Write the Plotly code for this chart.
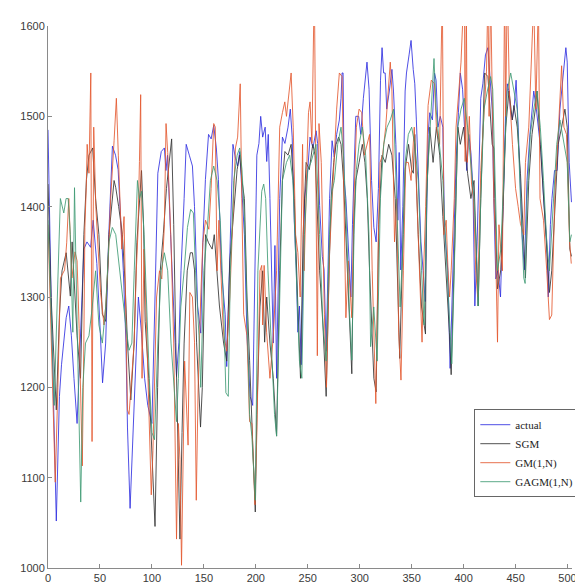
import plotly.graph_objects as go

# ---------------- data ----------------
actual_x = [0,3,8,11,13,15,17.5,20,22.5,25,28,31,34.5,37.5,41,43.5,47,50,52.5,55.5,58.5,62,65,67.5,70,72.5,75,76.5,79,81,84,87,90,93,96,100,103,105.7,109,112,113.5,115,118,121,123.7,126,128,131,133,136,139,141,144,147,149,151.5,154.5,157,159.5,162,164,167,170.5,172,175.5,178,180.5,182.5,184.5,186.7,189,191.5,194.5,197,199,201,203,204.7,206.6,209,210.5,212,213.6,215,216.8,218.4,220,223,225.6,228,231,233.2,235,237,239,240.5,242,243.7,245.5,247,250,252.2,255,258,259.5,261.4,264,265.7,267.7,269.5,271,273.4,275.5,277.8,280.4,282,283,284,285,286.7,288.3,290,291.5,293,294.5,296.2,299,301,303.5,305.7,307,309,311.4,313.6,315.8,318,320,321.5,323,324.5,326,328.5,331,332.5,334.8,336.7,338,339.5,341.5,343.7,345,347.5,349.4,351.5,353,354.5,356.3,358.9,361,363,365.8,367.4,370,372,373.5,375.3,377.5,380,381.6,384.8,387,389,391,392.7,395,396.8,399,401.3,403,405,407,409,410.8,413,416.5,418.5,421,423.4,425.5,427.5,429,431,433,435.5,438,440.5,442,443.5,445,446.8,448.5,450.5,452.5,454.5,456.3,458.5,461,463.6,465.8,467.5,470,472,474.5,477,480,481.5,483.5,485,487.5,490,492.7,496,498.4,499.7,501.6,503.8]
actual_y = [1485,1300,1052,1190,1225,1245,1277,1290,1257,1210,1160,1249,1353,1361,1355,1385,1337,1269,1205,1249,1369,1467,1457,1441,1385,1329,1250,1155,1066,1130,1226,1300,1260,1210,1180,1160,1300,1437,1461,1465,1440,1457,1369,1280,1212,1250,1329,1409,1469,1457,1445,1400,1290,1260,1360,1430,1480,1475,1490,1465,1430,1329,1281,1223,1353,1469,1453,1445,1461,1409,1369,1257,1190,1180,1300,1457,1470,1500,1477,1488,1450,1480,1409,1330,1249,1357,1210,1409,1477,1470,1488,1508,1477,1385,1329,1261,1290,1225,1330,1409,1441,1477,1465,1484,1470,1401,1345,1330,1240,1330,1409,1473,1455,1480,1496,1520,1548,1548,1429,1409,1369,1337,1300,1380,1440,1500,1500,1480,1520,1548,1560,1530,1429,1377,1361,1420,1540,1576,1548,1548,1508,1528,1552,1528,1469,1385,1460,1330,1400,1528,1548,1568,1584,1552,1536,1496,1437,1361,1329,1295,1480,1504,1496,1548,1540,1488,1500,1488,1377,1329,1221,1300,1369,1449,1504,1548,1530,1469,1440,1480,1460,1420,1290,1361,1520,1536,1568,1576,1544,1508,1409,1320,1330,1300,1400,1508,1536,1528,1508,1496,1508,1540,1488,1420,1369,1330,1429,1477,1508,1528,1508,1488,1460,1409,1361,1300,1380,1409,1440,1440,1508,1548,1576,1560,1449,1405]

sgm_x = [0,3,8,11,13.5,17.5,21.5,23.2,26,28,31.3,34.5,37,39.4,43,45.8,49,52.3,55.5,58.7,63.6,65.2,68,71.6,74,76.5,79.7,82.9,85.5,87.7,90,92,93.5,97,100,103,105.5,108,111,114,119,121,123,125,127,129,131,134,137,139,141,143,146.8,148.5,151.6,154.5,158,160,162.5,165,169,172,175,178.8,182,184.5,186.7,189,191.5,194,196.2,199.5,201,204,206.6,208.5,210.5,213.6,216.8,220,223,225.6,228,231,234,237,240.5,243,245.5,248.4,251.5,254.8,257,258.2,261.4,264.6,267.7,270.5,272.5,275,277.2,279.7,282,284.4,286.7,289.9,292.4,294.3,296.2,299.4,302.5,305,307.3,309.5,312,313.6,315.8,318.3,321.5,324.6,327.9,331,334.2,336.7,338.5,341.7,343.7,347,350,351.6,353,356.3,359.5,363.3,364.2,367.4,370.6,373.8,377,380,383.2,386.3,388,390.5,392.7,394.5,396.8,400,403.8,407,410,412.7,414,416.5,418.6,420.2,423.4,425.3,427.5,429,430,432.6,435.8,438,440.5,443.7,446.8,448.4,451.6,454.7,457.9,459.5,462.7,465.8,469,470.6,473.8,476.9,480,482.6,484.8,488,491,494.3,497.5,499.7,502.2,503.8]
sgm_y = [1425,1300,1175,1280,1329,1349,1301,1361,1300,1257,1210,1369,1430,1457,1465,1409,1369,1281,1273,1369,1429,1421,1400,1369,1320,1249,1186,1249,1360,1400,1440,1380,1273,1210,1130,1046,1200,1329,1370,1420,1475,1380,1250,1120,1032,1150,1249,1329,1349,1349,1330,1250,1156,1200,1369,1360,1353,1369,1329,1290,1249,1229,1340,1401,1441,1457,1429,1409,1300,1230,1170,1062,1170,1289,1329,1250,1300,1249,1210,1146,1329,1429,1461,1457,1469,1409,1289,1210,1369,1449,1441,1469,1457,1417,1329,1269,1190,1329,1409,1449,1469,1477,1469,1429,1369,1289,1215,1380,1429,1449,1469,1449,1409,1329,1249,1210,1195,1380,1457,1449,1469,1457,1409,1289,1232,1369,1441,1469,1441,1437,1480,1369,1289,1259,1409,1488,1449,1488,1457,1389,1329,1261,1214,1329,1429,1488,1469,1488,1437,1409,1429,1329,1290,1409,1488,1548,1544,1508,1469,1465,1409,1309,1330,1400,1488,1528,1496,1512,1488,1437,1353,1321,1429,1480,1508,1528,1469,1409,1353,1305,1329,1409,1469,1488,1508,1488,1353,1345]

gm_x = [0,3,7,9.5,12,16,18,20,23,26,28,30,33,34.5,35.5,36.8,37.7,39.4,41.2,42.4,44,46,47.4,50.6,53.9,55.5,58,60.3,63.6,65.8,67.7,69.5,71,73.2,75,76.5,78,80.7,82.9,85,86.5,88,89.2,90.5,92.4,94.5,97,99.4,101,102.5,104.5,107.3,109.5,112,113.6,115.2,118.4,121,123.7,125.5,127,128.5,130,131.5,134.8,136.5,139,141,142.7,144.5,147,149,151.6,154.8,157,159.5,161,162.7,164.5,166,168,169.3,172,175,178,180.4,182.5,185,186.5,188.3,191.5,194,196.2,199.2,201,204,205.7,206.6,208,210.4,213.6,216.8,220,223,225.6,227.9,229.5,232,234,236,238.3,240.5,242.7,245,246.5,249,250.7,252.2,254,256.3,257.5,259.2,260.8,263,266,268,271,274,277.8,280.4,283,284.5,286.7,289,292.4,294.5,296.8,299.4,302,304.5,307,309.5,312,313.6,315.5,318,319.6,322,325,329.4,331,333.5,335.7,337.5,339.7,342,344.3,346.8,349.4,352.5,356.3,358.6,360,361.5,363.5,365.8,368.9,372,373.8,376.9,378.5,379.5,381,383.2,385,386.5,388,391,392.7,395,397.5,400,400.8,401.5,402.6,403.5,405.5,407.6,409.5,411.7,413.5,416.5,419.6,422,423.4,424.5,426,427.5,429,430.5,432.6,434,437.3,439.5,440.5,442,444,447,450,452.5,454.7,457.9,459.5,462.7,465.8,467.5,469.5,472,473.5,476.9,480,482.6,484.8,488,490.5,492.7,494.3,496.5,499,502,503.6]
gm_y = [1380,1250,1095,1200,1321,1330,1360,1409,1321,1350,1340,1265,1113,1250,1377,1421,1469,1437,1548,1140,1488,1400,1369,1305,1269,1289,1340,1409,1473,1520,1457,1400,1353,1389,1260,1175,1170,1218,1249,1330,1369,1450,1524,1210,1353,1280,1170,1081,1130,1200,1300,1329,1320,1380,1492,1460,1361,1249,1032,1160,1120,1003,1140,1229,1136,1305,1300,1250,1075,1200,1300,1360,1385,1375,1420,1492,1488,1329,1385,1330,1280,1257,1240,1300,1400,1465,1477,1536,1409,1281,1257,1162,1160,1070,1150,1329,1335,1269,1335,1261,1210,1257,1329,1488,1504,1516,1500,1528,1548,1488,1369,1349,1300,1469,1329,1441,1504,1516,1470,1650,1450,1235,1492,1449,1281,1200,1350,1417,1508,1548,1544,1429,1277,1340,1277,1409,1488,1508,1504,1457,1470,1480,1329,1269,1182,1369,1449,1457,1488,1560,1528,1361,1409,1261,1208,1329,1449,1449,1429,1488,1377,1306,1250,1329,1400,1512,1540,1536,1488,1469,1640,1640,1369,1385,1329,1300,1329,1409,1488,1528,1560,1630,1630,1450,1630,1449,1500,1425,1409,1329,1300,1440,1508,1550,1640,1500,1640,1508,1409,1369,1250,1380,1329,1650,1500,1650,1528,1469,1420,1400,1381,1369,1449,1488,1592,1630,1508,1630,1409,1385,1329,1275,1280,1421,1469,1528,1556,1488,1480,1361,1337]

gagm_x = [0,3,6,9,11.9,15.2,17.4,19.4,21.5,23.9,25.5,27.5,29.7,31.5,33.5,36.1,39.4,42.6,45.8,49,52.3,55.5,58.7,61.9,65.2,68.8,72.3,74.8,78,80.7,83,86.1,88,90,92.5,95,97.5,100,102.5,105.7,108.9,112,115.2,118.4,121,123.7,125.5,127.8,131,134.2,137.3,139.9,142,145.3,147,150,153,156.3,159.5,162.7,165.8,169,171.2,173.5,175.5,178.8,182,184.5,186.7,189,191.5,194,196.2,199.5,202,205.7,207.6,209.5,211.7,214.9,218,220,223,225.6,229.5,232.6,235.7,238.9,242,244.3,246.8,250,253.1,257.9,259,261.4,264.6,267.7,270.9,273.4,275.6,278.8,282,284.4,286.9,289.9,292.4,294.5,296.8,299.4,302.5,305.7,308.9,310.5,313.5,316.8,319.9,323.1,326.3,329.4,332.6,334.2,336.7,338.9,342,343.7,346.8,350,353,356.3,359.5,362,365,368.4,371.5,373.5,376.9,380,383.2,386.3,388.6,391,394.3,397.5,400.6,403.8,407,410,412.7,414,416.5,419.6,422.8,426,428,430,432.6,435.8,439,442,445.3,448.4,451.6,454.7,457.9,459.2,461,464.2,467.5,470.6,473.8,476.9,480,482.6,486.4,489.6,492.7,496.5,499.7,502.2,503.8]
gagm_y = [1385,1290,1180,1300,1409,1393,1409,1409,1369,1261,1421,1300,1194,1073,1200,1249,1257,1289,1329,1269,1249,1289,1361,1377,1369,1329,1289,1269,1241,1249,1329,1429,1409,1417,1369,1280,1210,1150,1142,1249,1329,1349,1329,1249,1200,1162,1210,1289,1329,1377,1397,1393,1329,1257,1200,1329,1369,1429,1445,1429,1385,1289,1194,1190,1329,1429,1457,1465,1441,1389,1289,1170,1146,1075,1329,1417,1425,1409,1329,1249,1170,1146,1289,1429,1449,1457,1429,1329,1229,1210,1369,1441,1449,1469,1440,1369,1269,1229,1369,1417,1429,1469,1488,1457,1389,1289,1230,1369,1441,1469,1488,1457,1369,1245,1289,1229,1409,1469,1488,1496,1508,1449,1349,1289,1369,1449,1480,1488,1469,1429,1329,1269,1429,1496,1564,1508,1469,1429,1349,1269,1226,1329,1488,1508,1520,1488,1449,1409,1337,1290,1409,1508,1528,1544,1530,1440,1329,1353,1449,1528,1548,1528,1508,1409,1321,1315,1409,1480,1508,1528,1488,1429,1361,1329,1409,1469,1496,1469,1449,1361,1369]

series_names = ["actual", "SGM", "GM(1,N)", "GAGM(1,N)"]
series_colors = ["#2f2fe0", "#333333", "#e4592f", "#3f9b74"]
x_ticks = [0, 50, 100, 150, 200, 250, 300, 350, 400, 450, 500]
y_ticks = [1000, 1100, 1200, 1300, 1400, 1500, 1600]

# ---------------- figure ----------------
fig = go.Figure()
for name, xs, ys, col in zip(series_names,
                             [actual_x, sgm_x, gm_x, gagm_x],
                             [actual_y, sgm_y, gm_y, gagm_y],
                             series_colors):
    fig.add_trace(go.Scatter(x=xs, y=ys, mode="lines", name=name,
                             line=dict(color=col, width=0.85)))

axis_common = dict(showgrid=False, zeroline=False, showline=True,
                   linecolor="#8a8a8a", linewidth=1, ticks="inside",
                   ticklen=4, tickcolor="#8a8a8a", mirror=False,
                   tickfont=dict(family="Liberation Sans, Arial, sans-serif",
                                 size=11, color="#3a3a3a"))

fig.update_layout(
    width=583, height=588,
    margin=dict(l=39, r=13, t=17, b=15),
    paper_bgcolor="white", plot_bgcolor="white",
    xaxis=dict(range=[0, 504.3], tickvals=x_ticks, **axis_common),
    yaxis=dict(range=[1000, 1600], tickvals=y_ticks, **axis_common),
    legend=dict(x=0.8136, y=0.293, xanchor="left", yanchor="top",
                bgcolor="white", bordercolor="#666666", borderwidth=1,
                font=dict(family="Liberation Serif, Times New Roman, serif",
                          size=11, color="#222222"),
                itemwidth=30, tracegroupgap=0),
    showlegend=True,
)

fig.write_html("out.html")
